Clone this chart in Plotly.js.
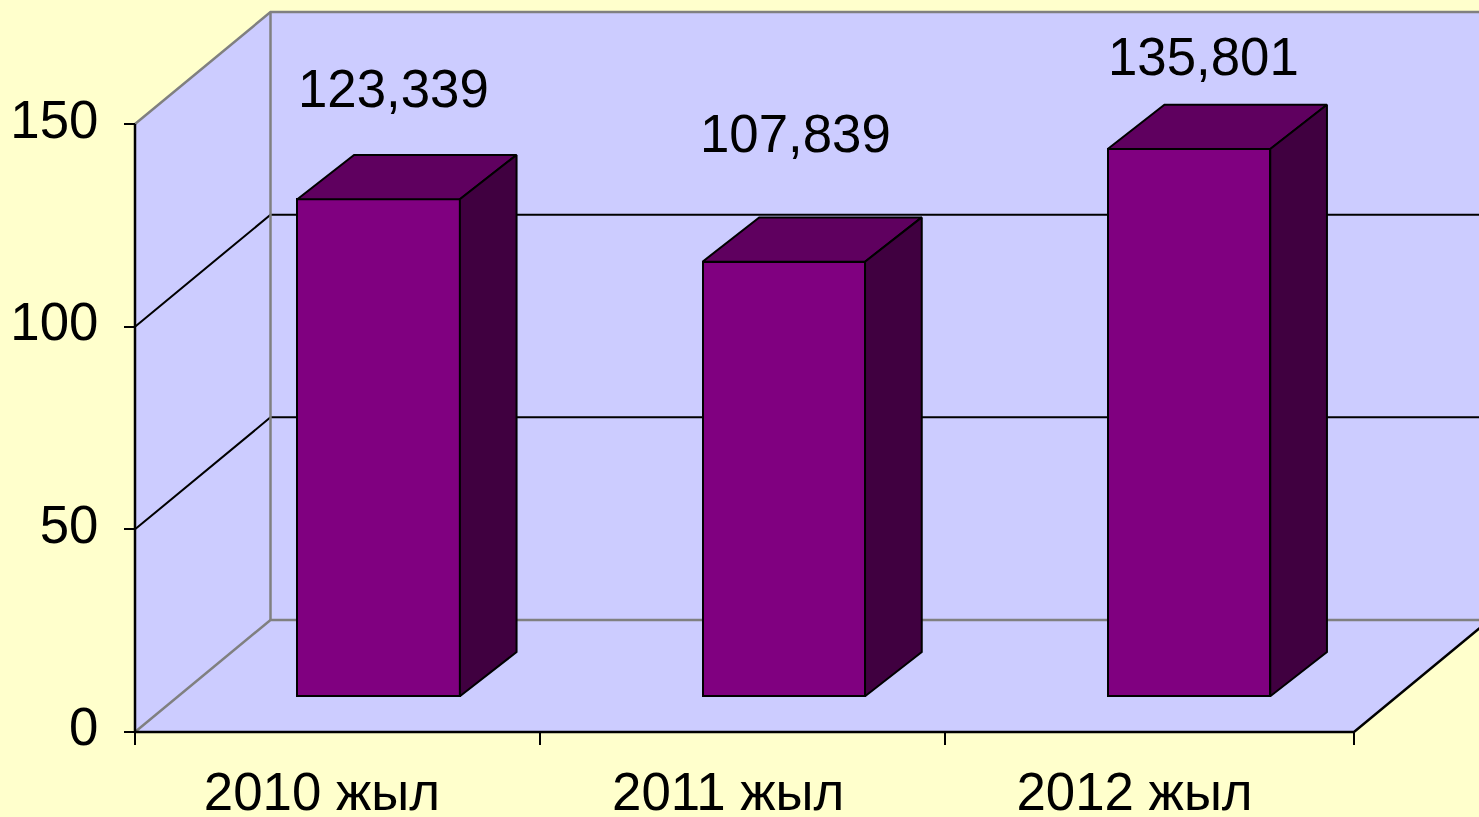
<!DOCTYPE html>
<html>
<head>
<meta charset="utf-8">
<script src="https://cdn.plot.ly/plotly-3.0.1.min.js"></script>
<style>html,body{margin:0;padding:0;background:#FFFFCC;overflow:hidden}#chart{width:1479px;height:817px}</style>
</head>
<body>
<div id="chart"></div>
<script>
// data
const categories = ['2010 жыл', '2011 жыл', '2012 жыл'];
const values = [123.339, 107.839, 135.801];
const valueTicks = [0, 50, 100, 150];
const boundaryTicks = [0, 0.9967, 1.9934, 3];

// colours
const BG = '#FFFFCC', WALL = '#CCCCFF', FRONT = '#800080', TOP = '#5F005F', SIDE = '#400040', GREY = '#808080';
const FONT = 'Liberation Sans, Arial, sans-serif';
const FS = 52.8;
const W = 1479, H = 817;

// projection of the chart box on the page
const X0 = 135, UNIT_X = 406.33, Y0 = 732, UNIT_Y = 4.053;
const WALL_DX = 135.5 / UNIT_X, WALL_DY = 112 / UNIT_Y;
const BAR_Y0 = 696.3, BAR_UNIT_Y = 4.03;
const BAR_SHIFT = 0.5995, BAR_STEP = 0.9972, BAR_WIDTH = 0.4;
const BAR_DX = 56.7 / UNIT_X, BAR_DY = 44.3 / BAR_UNIT_Y;
const MAX = valueTicks[valueTicks.length - 1], NCAT = categories.length;
const LABEL_SHIFT = 0.46;
const labelU = [0.637, 1.626, 2.63];
const labelV = [158.8, 147.7, 166.6];

const poly = (xs, ys, color) => ({type: 'scatter', mode: 'lines', x: xs, y: ys, fill: 'toself', fillcolor: color,
  line: {width: 0, color: color}, hoverinfo: 'skip', showlegend: false, xaxis: 'x', yaxis: 'y'});
const line = (xs, ys, color, w) => ({type: 'scatter', mode: 'lines', x: xs, y: ys,
  line: {width: w || 2, color: color}, hoverinfo: 'skip', showlegend: false, xaxis: 'x', yaxis: 'y'});

const traces = [];
const farX = NCAT + WALL_DX;
// walls and floor
traces.push(poly([WALL_DX, farX, farX, WALL_DX], [WALL_DY, WALL_DY, MAX + WALL_DY, MAX + WALL_DY], WALL));
traces.push(poly([0, WALL_DX, WALL_DX, 0], [0, WALL_DY, MAX + WALL_DY, MAX], WALL));
traces.push(poly([0, NCAT, farX, WALL_DX], [0, 0, WALL_DY, WALL_DY], WALL));
// gridlines on the walls
valueTicks.forEach(v => {
  const edge = (v === 0 || v === MAX);
  traces.push(line([0, WALL_DX, farX], [v, v + WALL_DY, v + WALL_DY], edge ? GREY : 'black', edge ? 2.5 : 2));
});
traces.push(line([WALL_DX, WALL_DX], [WALL_DY, MAX + WALL_DY], GREY, 2.5));
// axis lines
traces.push(line([0, 0], [0, MAX], 'black', 2.5));
traces.push(line([0, NCAT, farX], [0, 0, WALL_DY], 'black', 2.5));

// bars
const barX = values.map((v, i) => i * BAR_STEP + BAR_SHIFT);
traces.push({type: 'bar', x: barX, y: values, width: BAR_WIDTH, xaxis: 'x', yaxis: 'y2',
  marker: {color: FRONT, line: {color: 'black', width: 2}}, hoverinfo: 'skip', showlegend: false});
values.forEach((v, i) => {
  const l = barX[i] - BAR_WIDTH / 2, r = barX[i] + BAR_WIDTH / 2;
  const common = {type: 'scatter', mode: 'lines', fill: 'toself', hoverinfo: 'skip', showlegend: false, xaxis: 'x', yaxis: 'y2'};
  traces.push(Object.assign({}, common, {x: [l, r, r + BAR_DX, l + BAR_DX, l], y: [v, v, v + BAR_DY, v + BAR_DY, v],
    fillcolor: TOP, line: {color: 'black', width: 2}}));
  traces.push(Object.assign({}, common, {x: [r, r + BAR_DX, r + BAR_DX, r, r], y: [0, BAR_DY, v + BAR_DY, v, 0],
    fillcolor: SIDE, line: {color: 'black', width: 2}}));
});
// holder for the category label axis
traces.push({type: 'scatter', mode: 'markers', x: [0], y: [0], marker: {opacity: 0, size: 1}, hoverinfo: 'skip',
  showlegend: false, xaxis: 'x2', yaxis: 'y'});

const xRange = [-X0 / UNIT_X, (W - X0) / UNIT_X];
const freeX = (H - Y0) / H;
const layout = {
  width: W, height: H, margin: {l: 0, r: 0, t: 0, b: 0, pad: 0},
  paper_bgcolor: BG, plot_bgcolor: BG, showlegend: false, bargap: 0,
  font: {family: FONT, size: FS, color: 'black'},
  xaxis: {domain: [0, 1], range: xRange, anchor: 'free', position: freeX, side: 'bottom', showgrid: false, zeroline: false,
    showline: false, tickmode: 'array', tickvals: boundaryTicks, ticktext: boundaryTicks.map(() => ''),
    ticks: 'outside', ticklen: 12, tickwidth: 2, tickcolor: 'black'},
  xaxis2: {overlaying: 'x', domain: [0, 1], range: xRange, anchor: 'free', position: freeX, side: 'bottom', showgrid: false, zeroline: false,
    showline: false, tickmode: 'array', tickvals: categories.map((c, i) => i + LABEL_SHIFT), ticktext: categories,
    ticks: '', ticklabelstandoff: 24, tickfont: {family: FONT, size: FS, color: 'black'}},
  yaxis: {domain: [0, 1], range: [(Y0 - H) / UNIT_Y, Y0 / UNIT_Y], anchor: 'free', position: X0 / W, side: 'left', showgrid: false, zeroline: false,
    showline: false, tickmode: 'array', tickvals: valueTicks, ticktext: valueTicks.map(String),
    ticks: 'outside', ticklen: 11, tickwidth: 2, tickcolor: 'black', ticklabelstandoff: 15, ticklabelshift: -5,
    tickfont: {family: FONT, size: FS, color: 'black'}},
  yaxis2: {overlaying: 'y', domain: [0, 1], range: [(BAR_Y0 - H) / BAR_UNIT_Y, BAR_Y0 / BAR_UNIT_Y], visible: false},
  annotations: values.map((v, i) => ({
    xref: 'x', yref: 'y', x: labelU[i], y: labelV[i], showarrow: false, xanchor: 'center', yanchor: 'middle',
    text: v.toFixed(3).replace('.', ','), font: {family: FONT, size: FS, color: 'black'}
  }))
};
Plotly.newPlot('chart', traces, layout, {displayModeBar: false, responsive: false});
</script>
</body>
</html>
